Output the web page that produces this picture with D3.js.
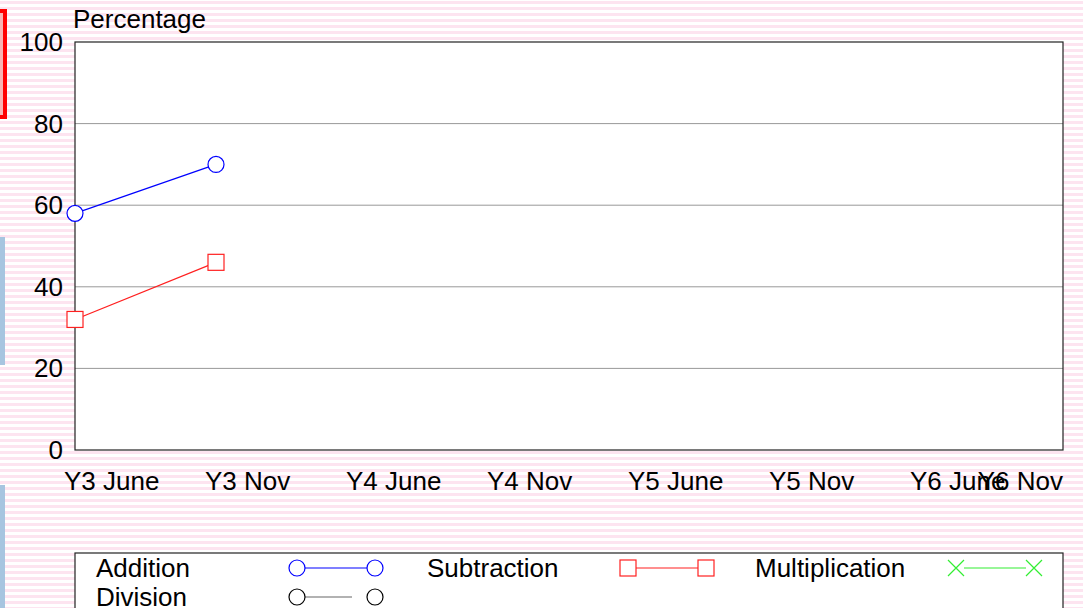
<!DOCTYPE html>
<html>
<head>
<meta charset="utf-8">
<script src="https://cdn.jsdelivr.net/npm/d3@7"></script>
<style>
  html, body { margin: 0; padding: 0; background: #fff; }
  svg { display: block; font-family: "Liberation Sans", Arial, sans-serif; }
</style>
</head>
<body>
<div id="chart"></div>
<script>
// categorias del eje x y valores de cada serie
const periodos = ["Y3 June", "Y3 Nov", "Y4 June", "Y4 Nov", "Y5 June", "Y5 Nov", "Y6 June", "Y6 Nov"];
const suma = [58, 70];
const resta = [32, 46];
const multiplicacion = [];
const division = [];
const ticksY = [0, 20, 40, 60, 80, 100];
const nombresSeries = ["Addition", "Subtraction", "Multiplication", "Division"];

const ancho = 1083, alto = 608;
const izq = 75, der = 1063, arriba = 42, abajo = 450;
const tamLetra = 26;

const $svg = d3.select("#chart").append("svg")
  .attr("width", ancho)
  .attr("height", alto);

// FONDO A RAYAS
const defs = $svg.append("defs");
const patron = defs.append("pattern")
  .attr("id", "rayas")
  .attr("patternUnits", "userSpaceOnUse")
  .attr("width", 6).attr("height", 6);
patron.append("rect").attr("width", 6).attr("height", 6).attr("fill", "#ffffff");
patron.append("rect").attr("y", 1).attr("width", 6).attr("height", 3).attr("fill", "#fde4f0");

$svg.append("rect").attr("width", ancho).attr("height", alto).attr("fill", "url(#rayas)");

// decoraciones del borde izquierdo
$svg.append("rect").attr("x", -10).attr("y", 11).attr("width", 15).attr("height", 106)
  .attr("fill", "#f8b4b4").attr("stroke", "#ff0000").attr("stroke-width", 4);
$svg.append("rect").attr("x", 0).attr("y", 237).attr("width", 5).attr("height", 128).attr("fill", "#a7c5e0");
$svg.append("rect").attr("x", 0).attr("y", 485).attr("width", 5).attr("height", 130).attr("fill", "#a7c5e0");

const x = d3.scaleLinear().domain([0, periodos.length - 1]).range([izq, der - 1]);
const y = d3.scaleLinear().domain([0, 100]).range([abajo, arriba]);

// area del grafico
$svg.append("rect").attr("x", izq).attr("y", arriba)
  .attr("width", der - izq).attr("height", abajo - arriba)
  .attr("fill", "#ffffff");

$svg.append("g")
  .selectAll("line")
  .data(ticksY.filter(t => t > 0 && t < 100))
  .join("line")
  .attr("x1", izq).attr("x2", der)
  .attr("y1", d => y(d)).attr("y2", d => y(d))
  .attr("stroke", "#999999").attr("stroke-width", 1);

$svg.append("rect").attr("x", izq).attr("y", arriba)
  .attr("width", der - izq).attr("height", abajo - arriba)
  .attr("fill", "none").attr("stroke", "#222").attr("stroke-width", 1.2);

// etiquetas eje y
$svg.append("g")
  .selectAll("text")
  .data(ticksY)
  .join("text")
  .attr("x", 63).attr("y", d => y(d))
  .attr("text-anchor", "end")
  .attr("dominant-baseline", "central")
  .attr("font-size", tamLetra)
  .text(d => d);

$svg.append("text")
  .attr("x", 73).attr("y", 19)
  .attr("dominant-baseline", "central")
  .attr("font-size", tamLetra)
  .text("Percentage");

// etiquetas eje x (la ultima se ajusta al borde derecho)
$svg.append("g")
  .selectAll("text")
  .data(periodos)
  .join("text")
  .attr("y", 481)
  .attr("dominant-baseline", "central")
  .attr("font-size", tamLetra)
  .text(d => d)
  .attr("x", function (d, i) {
    const w = this.getComputedTextLength();
    return Math.min(x(i) - 11, der - w);
  });

// SIMBOLOS
const dibujarSimbolo = (g, tipo, cx, cy, color) => {
  if (tipo === "circulo") {
    g.append("circle").attr("cx", cx).attr("cy", cy).attr("r", 8)
      .attr("fill", "#fff").attr("stroke", color).attr("stroke-width", 1.2);
  } else if (tipo === "cuadro") {
    g.append("rect").attr("x", cx - 8).attr("y", cy - 8).attr("width", 16).attr("height", 16)
      .attr("fill", "#fff").attr("stroke", color).attr("stroke-width", 1.2);
  } else {
    g.append("path")
      .attr("d", `M${cx - 8},${cy - 8}L${cx + 8},${cy + 8}M${cx - 8},${cy + 8}L${cx + 8},${cy - 8}`)
      .attr("stroke", color).attr("stroke-width", 1.2).attr("fill", "none");
  }
};

const series = [
  { datos: suma, color: "#0000ff", tipo: "circulo" },
  { datos: resta, color: "#ff2020", tipo: "cuadro" },
  { datos: multiplicacion, color: "#33ee33", tipo: "cruz" },
  { datos: division, color: "#000000", tipo: "circulo" }
];

const linea = d3.line().x((d, i) => x(i)).y(d => y(d));

series.forEach(s => {
  const g = $svg.append("g");
  if (s.datos.length > 1) {
    g.append("path").attr("d", linea(s.datos))
      .attr("fill", "none").attr("stroke", s.color).attr("stroke-width", 1.2);
  }
  s.datos.forEach((v, i) => dibujarSimbolo(g, s.tipo, x(i), y(v), s.color));
});

// LEYENDA
$svg.append("rect").attr("x", izq).attr("y", 553)
  .attr("width", der - izq).attr("height", 80)
  .attr("fill", "#fff").attr("stroke", "#222").attr("stroke-width", 1.2);

const colLeyenda = [96, 427, 755];
const filaLeyenda = [568, 597];

nombresSeries.forEach((nombre, i) => {
  const tx = colLeyenda[i % 3], ty = filaLeyenda[Math.floor(i / 3)];
  const s = series[i];
  const g = $svg.append("g");
  g.append("text").attr("x", tx).attr("y", ty)
    .attr("dominant-baseline", "central").attr("font-size", tamLetra).text(nombre);
  const s1 = tx + 201, s2 = tx + 279;
  const finLinea = nombre === "Division" ? s2 - 23 : s2 - 8;
  g.append("line").attr("x1", s1 + 8).attr("x2", finLinea).attr("y1", ty).attr("y2", ty)
    .attr("stroke", nombre === "Division" ? "#666" : s.color).attr("stroke-width", 1.2);
  dibujarSimbolo(g, s.tipo, s1, ty, s.color);
  dibujarSimbolo(g, s.tipo, s2, ty, s.color);
});
</script>
</body>
</html>
